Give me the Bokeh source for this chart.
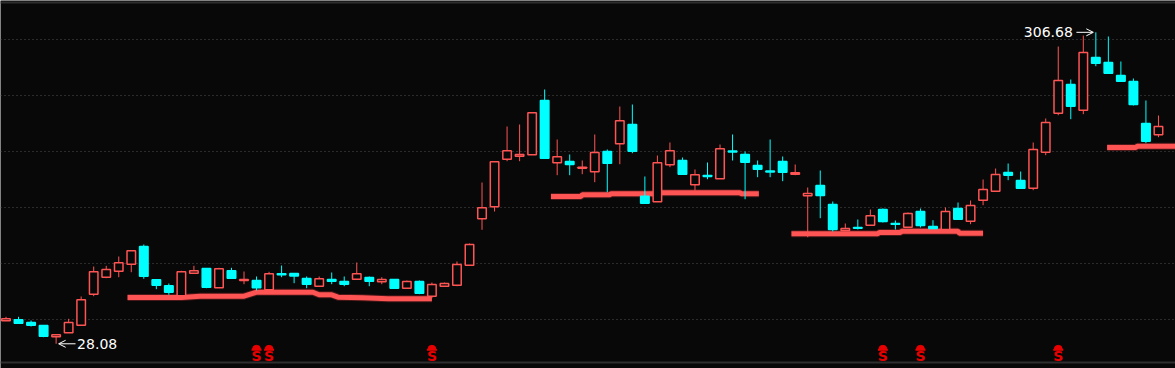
from bokeh.plotting import figure
from bokeh.models import Range1d, FixedTicker, Span, Arrow, OpenHead
from bokeh.core.properties import value
from bokeh.embed import file_html
from bokeh.resources import INLINE
import numpy as np

# ---------------- data ----------------
opens = [48.64, 49.54, 47.12, 44.44, 34.33, 37.91, 44.71, 72.44, 87.64, 93.01,
         99.27, 115.10, 85.32, 79.95, 71.00, 91.22, 95.42, 78.16, 93.37, 84.69,
         84.69, 76.37, 90.68, 90.95, 86.48, 79.59, 85.58, 83.80, 85.85, 87.37,
         83.53, 85.58, 77.80, 83.80, 70.65, 79.59, 80.49, 98.38, 139.88, 150.61,
         193.19, 195.88, 197.13, 245.70, 189.97, 191.14, 185.14, 181.92, 200.08, 206.97,
         224.23, 160.10, 155.09, 188.18, 192.03, 170.29, 178.61, 175.66, 200.53, 197.40,
         187.56, 182.64, 191.14, 179.78, 160.46, 169.67, 152.67, 129.41, 132.10, 134.15,
         148.20, 135.68, 132.37, 146.41, 132.99, 130.31, 149.09, 137.73, 156.52, 164.57,
         181.30, 174.14, 167.25, 199.45, 234.34, 260.01, 237.02, 284.16, 279.69, 268.06,
         262.70, 225.13, 215.02]
highs = [52.22, 52.22, 48.91, 44.44, 36.12, 50.43, 70.38, 97.21, 97.84, 106.16,
         111.26, 116.89, 85.32, 82.01, 93.37, 97.84, 95.42, 96.05, 96.05, 92.74,
         88.27, 92.47, 98.11, 90.95, 88.27, 88.27, 91.85, 88.27, 100.79, 88.27,
         87.64, 85.58, 84.69, 84.69, 82.90, 82.90, 101.69, 117.79, 172.35, 190.87,
         222.44, 224.23, 234.70, 255.54, 210.81, 197.40, 192.03, 215.29, 201.87, 240.33,
         242.12, 177.72, 196.50, 208.13, 194.71, 183.98, 190.24, 206.34, 215.29, 200.08,
         192.03, 210.81, 195.61, 188.45, 167.88, 183.08, 155.36, 135.68, 139.25, 148.20,
         149.09, 138.36, 145.52, 149.09, 138.63, 149.99, 154.46, 156.25, 175.03, 184.87,
         189.35, 182.19, 208.13, 229.60, 294.00, 264.48, 303.84, 306.68, 302.95, 280.59,
         265.38, 245.70, 232.28]
lows = [48.64, 46.50, 43.54, 33.97, 28.08, 37.91, 44.71, 70.65, 86.75, 87.64,
        92.11, 86.21, 76.91, 71.90, 71.00, 91.22, 77.80, 78.16, 86.75, 81.38,
        75.74, 76.37, 87.64, 82.28, 77.80, 79.59, 81.38, 79.59, 85.85, 79.59,
        81.38, 77.80, 77.80, 72.44, 68.86, 79.59, 79.59, 98.38, 130.04, 146.41,
        191.40, 191.40, 197.13, 194.09, 178.88, 178.88, 179.78, 172.62, 163.68, 188.72,
        198.56, 153.83, 155.09, 186.04, 179.78, 165.19, 175.30, 175.66, 192.03, 157.41,
        177.09, 177.09, 173.51, 178.88, 123.42, 140.42, 128.52, 129.41, 130.31, 134.15,
        136.57, 130.31, 132.37, 132.10, 131.20, 130.31, 139.52, 135.05, 152.05, 164.57,
        174.41, 167.25, 165.46, 196.77, 232.55, 228.97, 233.45, 276.38, 270.12, 262.96,
        241.23, 207.50, 212.87]
closes = [50.43, 46.50, 44.71, 34.87, 36.12, 47.12, 67.43, 92.47, 94.53, 100.52,
          111.26, 88.54, 80.49, 74.22, 92.47, 93.37, 78.70, 95.15, 86.75, 85.58,
          78.16, 90.68, 89.79, 88.72, 81.38, 86.21, 84.06, 81.38, 90.68, 84.06,
          85.58, 77.80, 83.80, 73.33, 81.11, 82.01, 99.00, 116.89, 149.72, 190.87,
          200.71, 197.40, 234.70, 194.09, 195.34, 188.45, 186.04, 199.19, 189.62, 227.54,
          200.35, 153.83, 189.97, 200.71, 179.78, 179.24, 177.72, 202.50, 199.63, 190.51,
          184.25, 181.74, 181.56, 181.03, 162.51, 160.72, 130.31, 131.20, 131.47, 142.56,
          137.47, 135.05, 144.62, 133.89, 131.20, 146.41, 139.52, 151.78, 166.09, 179.51,
          178.88, 167.25, 201.87, 226.02, 263.59, 240.60, 288.64, 279.07, 270.12, 262.96,
          242.12, 209.29, 222.44]

# support lines (candle index, price)
sup1_idx = [9.7, 14.0, 15.5, 19.0, 20.0, 24.5, 25.0, 26.0, 26.5, 28.5, 30.5, 34.0]
sup1_val = [69.5, 69.5, 70.7, 70.7, 74.2, 74.2, 71.9, 71.9, 69.8, 69.2, 68.3, 68.3]
sup2_idx = [43.5, 45.9, 46.0, 48.2, 48.3, 51.7, 51.8, 58.6, 58.7, 60.1]
sup2_val = [159.8, 159.8, 161.4, 161.4, 162.3, 162.3, 163.1, 163.1, 162.3, 162.3]
sup3_idx = [62.7, 69.6, 69.7, 71.4, 71.5, 76.0, 76.1, 78.0]
sup3_val = [126.5, 126.5, 127.6, 127.6, 128.8, 128.8, 127.0, 127.0]
sup4_idx = [87.9, 90.2, 90.3, 93.4]
sup4_val = [203.7, 203.7, 204.8, 204.8]

signal_idx = [20, 21, 34, 70, 73, 84]
grid_levels = [50, 100, 150, 200, 250, 300]

# ---------------- styling ----------------
BG = "#080808"
RED = "#ff5454"
CYAN = "#00ffff"
SIG = "#e60000"

Y_TOP = 335.15          # price at top pixel row
PX = 0.8945             # price per pixel
H = 368
W = 1175


def price_at(py):
    return Y_TOP - PX * py


p = figure(width=W, height=H, output_backend="svg", toolbar_location=None,
           x_range=Range1d(-0.44, 93.36), y_range=Range1d(price_at(H), Y_TOP),
           min_border=0, background_fill_color=BG, border_fill_color=BG,
           outline_line_color=None)
p.axis.visible = False
p.xgrid.visible = False
p.ygrid.ticker = FixedTicker(ticks=grid_levels)
p.ygrid.grid_line_color = "#4e4e4e"
p.ygrid.grid_line_dash = "1 3"
p.ygrid.grid_line_width = 1

# borders
p.add_layout(Span(location=price_at(2), dimension="width", line_color="#2e2e2e", line_width=2))
p.add_layout(Span(location=price_at(362), dimension="width", line_color="#2e2e2e", line_width=2))

idx = list(range(len(opens)))
up = [c >= o for o, c in zip(opens, closes)]
col = [RED if u else CYAN for u in up]
fill = [BG if u else CYAN for u in up]
tops = [max(o, c) for o, c in zip(opens, closes)]
bots = [min(o, c) for o, c in zip(opens, closes)]

# support lines
for xs, ys in [(sup1_idx, sup1_val), (sup2_idx, sup2_val), (sup3_idx, sup3_val), (sup4_idx, sup4_val)]:
    p.line(xs, ys, line_color="#5a1c1c", line_width=7, line_alpha=0.8)
    p.line(xs, ys, line_color=RED, line_width=5)

# candles
p.segment(x0=idx, y0=lows, x1=idx, y1=highs, line_color=col, line_width=1)
p.vbar(x=idx, width=0.68, top=tops, bottom=bots, fill_color=fill, line_color=col, line_width=1.5)

# high / low labels
hi_i = int(np.argmax(highs))
lo_i = int(np.argmin(lows))
p.text(x=[hi_i], y=[highs[hi_i]], text=[f"{highs[hi_i]:.2f}"], x_offset=-23,
       text_align="right", text_baseline="middle", text_color="white",
       text_font=value("DejaVu Sans"), text_font_size="14px")
p.add_layout(Arrow(x_start=hi_i - 1.55, y_start=highs[hi_i], x_end=hi_i - 0.2, y_end=highs[hi_i],
                   line_color="white", line_width=1,
                   end=OpenHead(size=7, line_color="white", line_width=1)))
p.text(x=[lo_i], y=[lows[lo_i]], text=[f"{lows[lo_i]:.2f}"], x_offset=21,
       text_align="left", text_baseline="middle", text_color="white",
       text_font=value("DejaVu Sans"), text_font_size="14px")
p.add_layout(Arrow(x_start=lo_i + 1.55, y_start=lows[lo_i], x_end=lo_i + 0.2, y_end=lows[lo_i],
                   line_color="white", line_width=1,
                   end=OpenHead(size=7, line_color="white", line_width=1)))

# signal markers
n = len(signal_idx)
p.wedge(x=signal_idx, y=[price_at(348.8)] * n, radius=4, radius_units="screen",
        start_angle=0, end_angle=np.pi, fill_color=SIG, line_color=SIG)
p.rect(x=signal_idx, y=[price_at(349.3)] * n, width=10, height=2,
       width_units="screen", height_units="screen", fill_color=SIG, line_color=None)
p.text(x=signal_idx, y=[price_at(355.5)] * n, text=["S"] * n, text_align="center",
       text_baseline="middle", text_color=SIG, text_font=value("DejaVu Sans"),
       text_font_style="bold", text_font_size="14px")

open("out.html", "w").write(file_html(p, INLINE))
